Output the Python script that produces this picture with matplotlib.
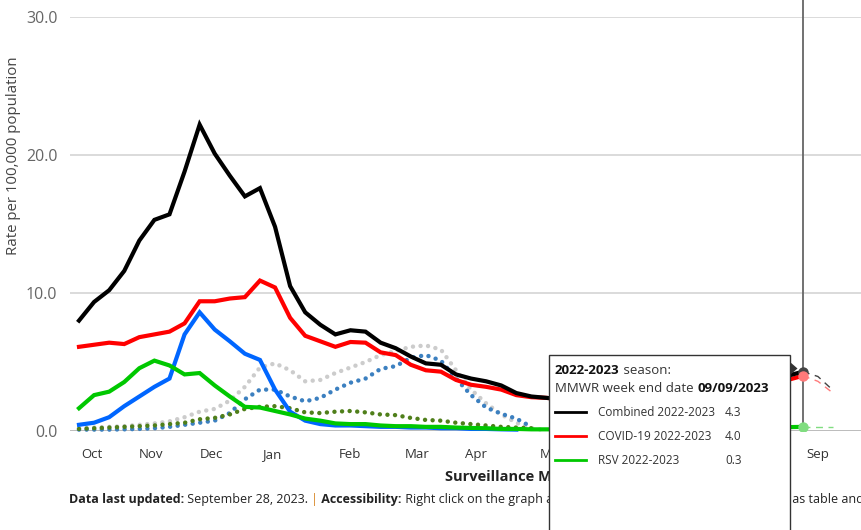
import matplotlib
matplotlib.use("Agg")
import matplotlib.pyplot as plt
from matplotlib.patches import Rectangle, Polygon
from matplotlib.lines import Line2D
from matplotlib.text import Annotation

plt.rcParams['font.family'] = ['Open Sans', 'DejaVu Sans']

# week index 0 = MMWR week ending 10/08/2022, 48 = 09/09/2023
combined = [8.0, 9.35, 10.2, 11.6, 13.8, 15.3, 15.7, 18.8, 22.2, 20.1, 18.5, 17.0, 17.6, 14.8, 10.5, 8.6,
            7.7, 7.0, 7.3, 7.2, 6.4, 6.0, 5.4, 4.9, 4.8, 4.1, 3.8, 3.6, 3.3, 2.75, 2.5, 2.4, 2.3,
            2.35, 2.25, 2.1, 2.0, 1.9, 1.8, 1.75, 1.8, 1.95, 2.2, 2.5, 2.9, 3.3, 3.6, 4.0, 4.3]
covid = [6.1, 6.25, 6.4, 6.3, 6.8, 7.0, 7.2, 7.8, 9.4, 9.4, 9.6, 9.7, 10.9, 10.4, 8.2, 6.9,
         6.5, 6.1, 6.45, 6.4, 5.7, 5.5, 4.8, 4.4, 4.3, 3.7, 3.35, 3.2, 3.0, 2.6, 2.45, 2.4, 2.3,
         2.2, 2.1, 1.95, 1.85, 1.75, 1.65, 1.6, 1.65, 1.8, 2.0, 2.3, 2.7, 3.05, 3.35, 3.7, 4.0]
rsv = [1.65, 2.6, 2.85, 3.55, 4.55, 5.1, 4.75, 4.1, 4.2, 3.3, 2.5, 1.75, 1.7, 1.45, 1.2, 0.9,
       0.75, 0.55, 0.5, 0.5, 0.4, 0.35, 0.35, 0.3, 0.3, 0.25, 0.22, 0.2, 0.15, 0.15, 0.12, 0.12, 0.12,
       0.1, 0.1, 0.1, 0.1, 0.1, 0.1, 0.1, 0.12, 0.12, 0.15, 0.15, 0.18, 0.2, 0.25, 0.28, 0.3]
flu = [0.45, 0.6, 1.0, 1.8, 2.5, 3.2, 3.8, 7.0, 8.6, 7.35, 6.5, 5.6, 5.15, 3.0, 1.4, 0.75,
       0.5, 0.4, 0.4, 0.35, 0.3, 0.3, 0.25, 0.25, 0.2, 0.2, 0.15, 0.15, 0.12, 0.1]

# prior season comparison (dotted)
prior_combined = [0.2, 0.25, 0.3, 0.35, 0.45, 0.55, 0.7, 1.0, 1.4, 1.6, 2.2, 3.2, 4.6, 4.9, 4.4, 3.6,
                  3.7, 4.2, 4.6, 5.0, 5.5, 5.8, 6.1, 6.2, 5.9, 4.4, 3.0, 2.0, 1.2, 0.6, 0.2, 0.05]
prior_flu = [0.1, 0.1, 0.1, 0.12, 0.15, 0.2, 0.3, 0.45, 0.6, 0.75, 1.3, 2.3, 3.0, 3.0, 2.5, 2.15,
             2.4, 3.0, 3.5, 3.8, 4.5, 4.7, 5.3, 5.5, 5.1, 3.8, 2.6, 1.7, 1.25, 0.9, 0.3]
prior_rsv = [0.15, 0.2, 0.25, 0.3, 0.35, 0.4, 0.5, 0.6, 0.85, 0.95, 1.2, 1.6, 1.75, 1.8, 1.65, 1.35,
             1.3, 1.4, 1.45, 1.35, 1.2, 1.15, 0.95, 0.8, 0.75, 0.6, 0.5, 0.4, 0.3, 0.25, 0.2]

# incomplete recent weeks (dashed), starting at the selected week
proj_weeks = [48, 49, 50]
proj_combined = [4.3, 3.95, 2.95]
proj_covid = [4.0, 3.6, 2.75]
proj_rsv = [0.3, 0.3, 0.3]

sel_week = 48
month_labels = ['Oct', 'Nov', 'Dec', 'Jan', 'Feb', 'Mar', 'Apr', 'May', 'Jun', 'Jul', 'Aug', 'Sep']
month_pos = [0.86, 4.77, 8.75, 12.8, 17.97, 22.4, 26.3, 31.4, 35.7, 40.0, 44.5, 49.0]

W, H = 861, 530
def fx(px):
    return px / W
def fy(py):
    return 1 - py / H

fig = plt.figure(figsize=(W / 100, H / 100), dpi=100)
ax = fig.add_axes([fx(70), fy(431), 1 - fx(70), (431 - 17) / H])
ax.set_xlim((70 - 79) / 15.08, (861 - 79) / 15.08)
ax.set_ylim(0, 30)
for s in ax.spines.values():
    s.set_visible(False)
ax.set_yticks([0, 10, 20, 30])
ax.set_yticklabels(['0.0', '10.0', '20.0', '30.0'])
ax.tick_params(axis='y', length=0, pad=9, labelsize=11.5, labelcolor='#666666')
ax.set_xticks(month_pos)
ax.set_xticklabels(month_labels)
ax.tick_params(axis='x', length=0, pad=12, labelsize=9.5, labelcolor='#333333')
for v in [10, 20, 30]:
    ax.axhline(v, color='#d4d4d4', lw=1.2, zorder=0)
ax.axhline(0, color='#b0b0b0', lw=1.2, zorder=0)

dot = (0, (0.01, 1.7))
def wk(vals):
    return list(range(len(vals)))

ax.plot(wk(prior_combined), prior_combined, color='#cccccc', lw=3.2, ls=dot,
        dash_capstyle='round', zorder=2, clip_on=False)
ax.plot(wk(prior_flu), prior_flu, color='#3c80c0', lw=3.2, ls=dot,
        dash_capstyle='round', zorder=2, clip_on=False)
ax.plot(wk(prior_rsv), prior_rsv, color='#4f7f1a', lw=3.2, ls=dot,
        dash_capstyle='round', zorder=2, clip_on=False)

ax.plot(wk(flu), flu, color='#0066ff', lw=3, zorder=3, clip_on=False, solid_joinstyle='miter')
ax.plot(wk(rsv), rsv, color='#00c800', lw=3, zorder=4, clip_on=False, solid_joinstyle='miter')
ax.plot(wk(covid), covid, color='#ff0000', lw=3, zorder=4, clip_on=False, solid_joinstyle='miter')
ax.plot(wk(combined), combined, color='#000000', lw=3, zorder=5, clip_on=False, solid_joinstyle='miter')

ax.plot(proj_weeks, proj_combined, color='#444444', lw=1, ls=(0, (5, 4)), zorder=5)
ax.plot(proj_weeks, proj_covid, color='#ff7a7a', lw=1, ls=(0, (5, 4)), zorder=5)
ax.plot(proj_weeks, proj_rsv, color='#80dd80', lw=1, ls=(0, (5, 4)), zorder=5)

# crosshair on selected week
ax.plot([sel_week, sel_week], [0, 431 / 13.8], color='#666666', lw=1.3, zorder=6, clip_on=False)
ax.plot([sel_week], [combined[sel_week]], 'o', color='#444444', ms=6.5, zorder=7)
ax.plot([sel_week], [covid[sel_week]], 'o', color='#ff7a7a', ms=6.5, zorder=7)
ax.plot([sel_week], [rsv[sel_week]], 'o', color='#80dd80', ms=6.5, zorder=7)

fig.text(fx(14), fy(156), 'Rate per 100,000 population', rotation=90, ha='center', va='center',
         fontsize=10.8, color='#444444')
fig.text(fx(445), fy(477), 'Surveillance Month', ha='left', va='center', fontsize=10.5,
         weight='bold', color='#222222')


def chain(parts, x, y, size, color, z):
    prev = None
    for txt, bold, col in parts:
        if prev is None:
            prev = fig.text(x, y, txt, ha='left', va='center', fontsize=size,
                            weight='bold' if bold else 'normal', color=col or color, zorder=z)
        else:
            a = Annotation(txt, xy=(1, 0), xycoords=prev, ha='left', va='bottom', fontsize=size,
                           weight='bold' if bold else 'normal', color=col or color, zorder=z)
            fig.add_artist(a)
            prev = a


chain([('Data last updated:', True, None), (' September 28, 2023. ', False, None),
       ('|', False, '#d98a2b'), (' Accessibility:', True, None),
       (" Right click on the graph and select 'View data as table' to see data as table and chart.", False, None)],
      fx(69), fy(500), 9, '#222222', 3)

# tooltip
fig.add_artist(Rectangle((fx(549), fy(545)), fx(790) - fx(549), fy(355) - fy(545),
                         transform=fig.transFigure, facecolor='white', edgecolor='#333333',
                         lw=1, zorder=10))
fig.add_artist(Polygon([(fx(790), fy(362)), (fx(797.5), fy(368.5)), (fx(790), fy(375))],
                       closed=True, transform=fig.transFigure, facecolor='#333333',
                       edgecolor='none', zorder=10))
chain([('2022-2023', True, '#111111'), (' season:', False, None)], fx(555), fy(370), 9.5, '#333333', 11)
chain([('MMWR week end date ', False, None), ('09/09/2023', True, '#111111')], fx(555), fy(389), 9.5,
      '#333333', 11)

rows = [('Combined 2022-2023', '#000000', combined[sel_week]),
        ('COVID-19 2022-2023', '#ff0000', covid[sel_week]),
        ('RSV 2022-2023', '#00c800', rsv[sel_week])]
for k, (name, col, val) in enumerate(rows):
    yy = 412 + 24 * k
    fig.add_artist(Line2D([fx(555), fx(586)], [fy(yy), fy(yy)], transform=fig.transFigure,
                          color=col, lw=2, zorder=11))
    fig.text(fx(598), fy(yy), name, ha='left', va='center', fontsize=8.5, color='#333333', zorder=11)
    fig.text(fx(725), fy(yy), f'{val:.1f}', ha='left', va='center', fontsize=8.5, color='#333333', zorder=11)

fig.savefig('out.png', dpi=100)
